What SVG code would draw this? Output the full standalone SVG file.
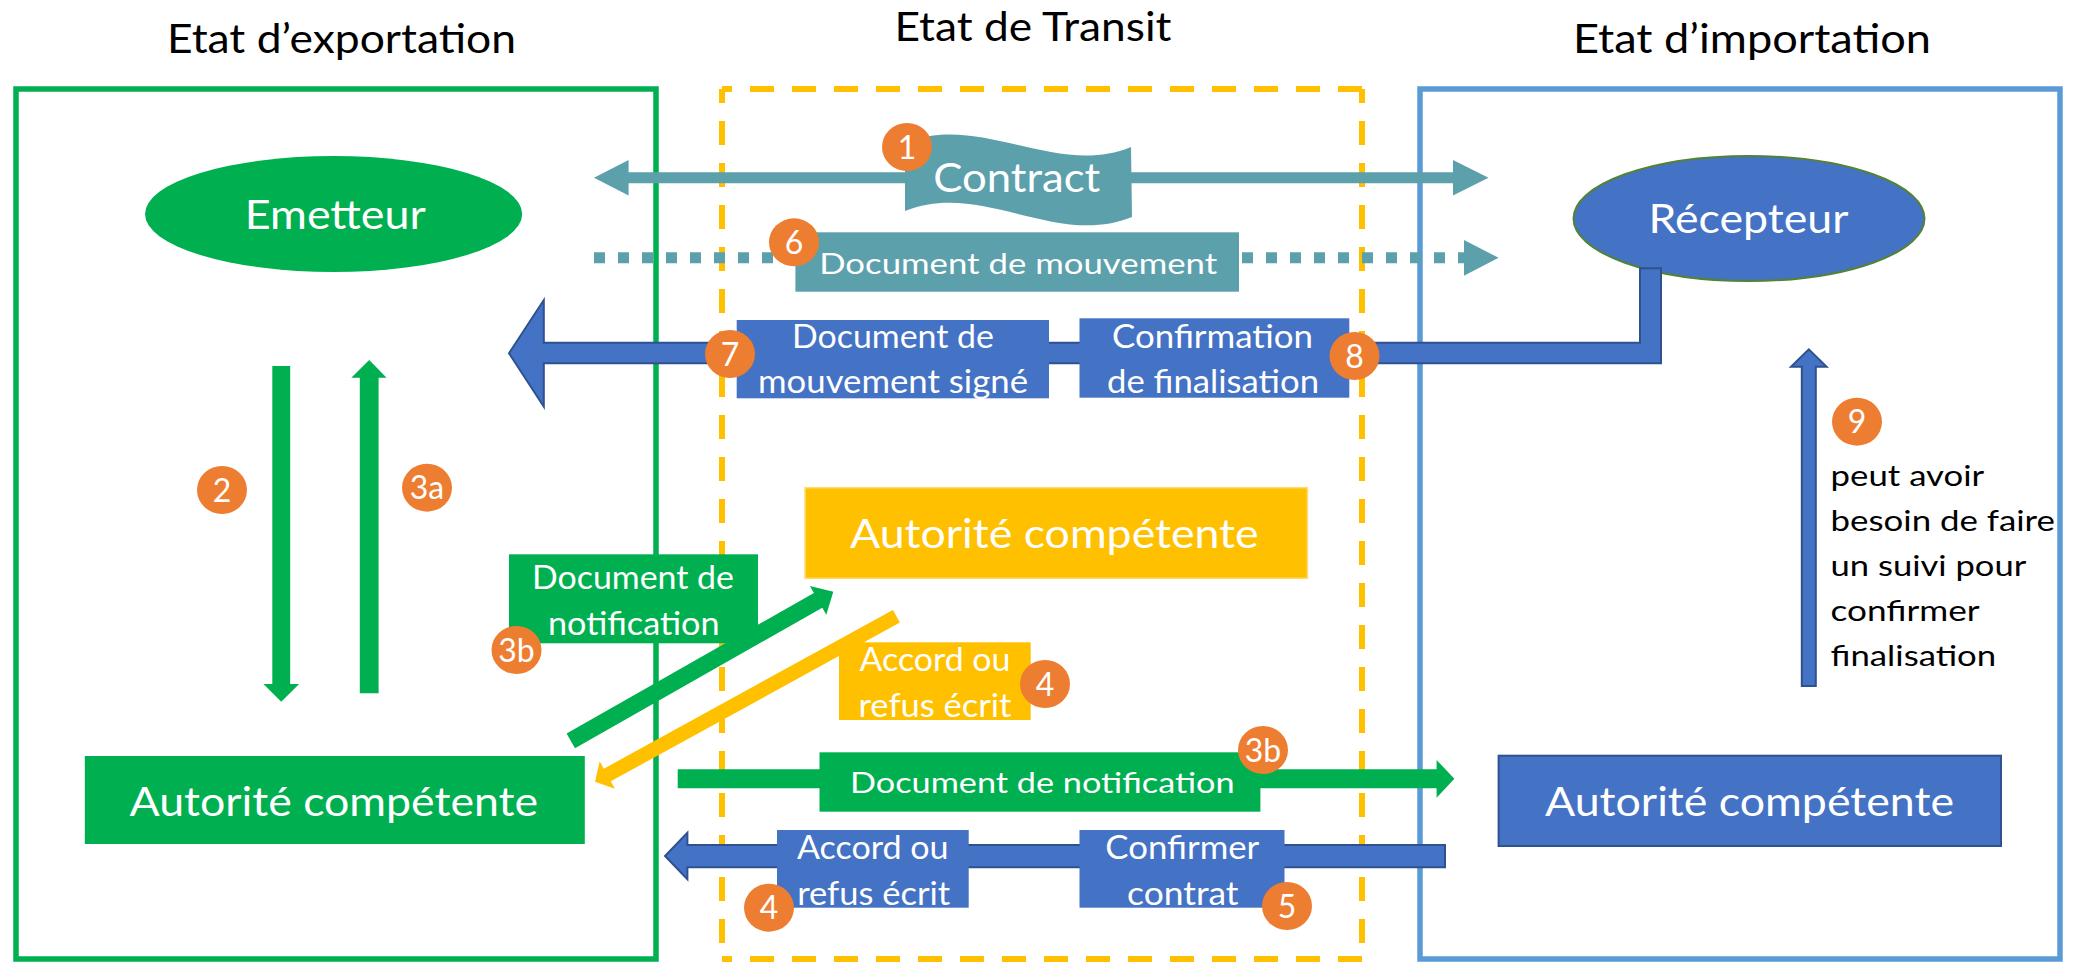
<svg xmlns="http://www.w3.org/2000/svg" width="2074" height="962" viewBox="0 0 2074 962">
  <style>
    text { font-family: Lato, "Liberation Sans", sans-serif; text-anchor: middle; }
    .head { fill: #000; font-size: 41px; }
    .big { fill: #fff; font-size: 41px; }
    .mid { fill: #fff; font-size: 32px; }
    .small { fill: #fff; font-size: 29.5px; }
    .note { fill: #000; font-size: 29px; text-anchor: start; }
    .num { fill: #fff; font-size: 32px; }
    .badge ellipse { fill: #ED7D31; }
    .green { fill: #00B050; }
    .yellow { fill: #FFC000; }
    .blue { fill: #4472C4; }
    .blueline { fill: #4472C4; stroke: #2F528F; stroke-width: 2; stroke-linejoin: miter; }
    .teal { fill: #5CA0AC; }
    .frame { fill: none; stroke-width: 5.5; }
    .dash { stroke: #FFC000; stroke-width: 6; stroke-dasharray: 24 18; stroke-dashoffset: 10; fill: none; }
  </style>

  <rect width="2074" height="962" fill="#fff"/>

  <!-- state areas -->
  <g id="frames">
    <rect class="frame" x="16" y="89" width="640" height="870" stroke="#00B050"/>
    <rect class="frame" x="1420" y="89" width="640" height="870" stroke="#5B9BD5"/>
    <line class="dash" x1="722" y1="89" x2="1362" y2="89" style="stroke-dashoffset:14"/>
    <line class="dash" x1="722" y1="89" x2="722" y2="959"/>
    <line class="dash" x1="1362" y1="89" x2="1362" y2="959"/>
    <line class="dash" x1="722" y1="959" x2="1362" y2="959" style="stroke-dashoffset:14"/>
  </g>

  <g id="titles">
    <text class="head" x="341.5" y="53" textLength="349" lengthAdjust="spacingAndGlyphs">Etat d’exportation</text>
    <text class="head" x="1033" y="41" textLength="277" lengthAdjust="spacingAndGlyphs">Etat de Transit</text>
    <text class="head" x="1752" y="53" textLength="358" lengthAdjust="spacingAndGlyphs">Etat d’importation</text>
  </g>

  <!-- parties and authorities -->
  <g id="emetteur">
    <ellipse class="green" cx="333.6" cy="214" rx="188.6" ry="58"/>
    <text class="big" x="335.3" y="229" textLength="181" lengthAdjust="spacingAndGlyphs">Emetteur</text>
  </g>
  <g id="recepteur">
    <ellipse cx="1749" cy="218.5" rx="175.5" ry="62.5" fill="#4472C4" stroke="#548235" stroke-width="2"/>
    <text class="big" x="1748.5" y="233.3" textLength="200" lengthAdjust="spacingAndGlyphs">Récepteur</text>
  </g>
  <g id="autorite-export">
    <rect class="green" x="84.8" y="756" width="500" height="88"/>
    <text class="big" x="333.8" y="816" font-size="42" textLength="408.5" lengthAdjust="spacingAndGlyphs">Autorité compétente</text>
  </g>
  <g id="autorite-transit">
    <rect class="yellow" x="805" y="487.7" width="502.4" height="90.6" stroke="#FFDB70" stroke-width="1.5"/>
    <text class="big" x="1054.3" y="548.3" font-size="42" textLength="408.6" lengthAdjust="spacingAndGlyphs">Autorité compétente</text>
  </g>
  <g id="autorite-import">
    <rect class="blueline" x="1498.6" y="755.7" width="502.4" height="90.3"/>
    <text class="big" x="1749.5" y="816" font-size="42" textLength="409" lengthAdjust="spacingAndGlyphs">Autorité compétente</text>
  </g>

  <!-- flows -->
  <g id="connectors">
    <!-- 1: contract, both ways -->
    <polygon class="teal" points="594,177.8 628.6,160 628.6,172.3 1453,172.3 1453,160 1488.5,177.8 1453,195.6 1453,183.3 628.6,183.3 628.6,195.6"/>
    <!-- 6: movement document, dotted -->
    <line x1="594" y1="257.8" x2="1464" y2="257.8" stroke="#5CA0AC" stroke-width="11" stroke-dasharray="11 13"/>
    <polygon class="teal" points="1464,240 1498.6,257.8 1464,275.7"/>
    <!-- 7/8: from receiver back to sender -->
    <path class="blueline" d="M1661,268.3 L1661,363.3 L543.8,363.3 L543.8,406.7 L509,353.3 L543.8,300 L543.8,342.7 L1640,342.7 L1640,268.3 Z"/>
    <!-- 2 / 3a: sender and its authority -->
    <polygon class="green" points="272.3,366 290.2,366 290.2,684 299.1,684 281.25,701.7 263.4,684 272.3,684"/>
    <polygon class="green" points="359.8,693.3 378.6,693.3 378.6,377.7 386.6,377.7 369.2,360 351.3,377.7 359.8,377.7"/>
    <!-- 3b: notification to transit authority -->
    <polygon class="green" points="566.6,733.4 813.9,592.9 809.9,585.9 833.3,591.7 826.3,614.7 822.3,607.7 575,748.2"/>
    <!-- 4: transit answer -->
    <polygon class="yellow" points="892.9,610 603.8,768.7 599.7,761.2 595,781.7 614.9,788.8 610.8,781.3 899.9,622.6"/>
    <!-- 3b: notification to import authority -->
    <polygon class="green" points="677.7,769.3 1436.6,769.3 1436.6,760 1454.4,778.8 1436.6,797.7 1436.6,788.3 677.7,788.3"/>
    <!-- 4/5: import authority answer -->
    <polygon class="blueline" points="1445,845 687.4,845 687.4,832.7 665,856 687.4,879.3 687.4,867.3 1445,867.3"/>
    <!-- 9: follow-up -->
    <polygon class="blueline" points="1801.8,686 1801.8,366.7 1791,366.7 1808.8,349.3 1826.6,366.7 1815.8,366.7 1815.8,686"/>
  </g>

  <!-- flow labels -->
  <g id="label-contract">
    <path class="teal" d="M905,143 C980,112 1056,178 1131,147 L1132,217 C1056,248 981,180 905,211 Z"/>
    <text class="big" x="1016.7" y="191.7" font-size="40" textLength="167" lengthAdjust="spacingAndGlyphs">Contract</text>
  </g>
  <g id="label-mouvement">
    <rect class="teal" x="795.4" y="232.3" width="443.6" height="59.4"/>
    <text class="small" x="1018.2" y="274" font-size="29" textLength="398" lengthAdjust="spacingAndGlyphs">Document de mouvement</text>
  </g>
  <g id="label-signe">
    <rect class="blue" x="736.7" y="320" width="312.3" height="78.3"/>
    <text class="mid" x="893" y="348.3" textLength="202" lengthAdjust="spacingAndGlyphs">Document de</text>
    <text class="mid" x="893" y="393.3" textLength="270" lengthAdjust="spacingAndGlyphs">mouvement signé</text>
  </g>
  <g id="label-finalisation">
    <rect class="blue" x="1079.5" y="318.3" width="269.8" height="79.4"/>
    <text class="mid" x="1212.5" y="347.7" textLength="201" lengthAdjust="spacingAndGlyphs">Confirmation</text>
    <text class="mid" x="1213" y="393.3" textLength="212" lengthAdjust="spacingAndGlyphs">de finalisation</text>
  </g>
  <g id="label-notification-transit">
    <rect class="green" x="509" y="554.3" width="249" height="89"/>
    <text class="mid" x="633" y="589.3" textLength="202" lengthAdjust="spacingAndGlyphs">Document de</text>
    <text class="mid" x="633.8" y="635" textLength="171.6" lengthAdjust="spacingAndGlyphs">notification</text>
  </g>
  <g id="label-accord-transit">
    <rect class="yellow" x="839" y="642.3" width="191.7" height="77.7"/>
    <text class="mid" x="935" y="671" font-size="31.6" textLength="151" lengthAdjust="spacingAndGlyphs">Accord ou</text>
    <text class="mid" x="935" y="716.7" font-size="31.6" textLength="153" lengthAdjust="spacingAndGlyphs">refus écrit</text>
  </g>
  <g id="label-notification-import">
    <rect class="green" x="819.5" y="752.3" width="440.9" height="59.4"/>
    <text class="small" x="1042.3" y="793.3" font-size="30" textLength="384.5" lengthAdjust="spacingAndGlyphs">Document de notification</text>
  </g>
  <g id="label-accord-import">
    <rect class="blue" x="777" y="830" width="191.7" height="77.7"/>
    <text class="mid" x="872.8" y="859.3" font-size="31.6" textLength="151.6" lengthAdjust="spacingAndGlyphs">Accord ou</text>
    <text class="mid" x="873.7" y="905" font-size="31.6" textLength="153" lengthAdjust="spacingAndGlyphs">refus écrit</text>
  </g>
  <g id="label-confirmer">
    <rect class="blue" x="1079.5" y="830" width="205" height="77.7"/>
    <text class="mid" x="1182.3" y="859.3" font-size="31.6" textLength="154" lengthAdjust="spacingAndGlyphs">Confirmer</text>
    <text class="mid" x="1182.8" y="905" font-size="31.6" textLength="111.5" lengthAdjust="spacingAndGlyphs">contrat</text>
  </g>
  <g id="label-suivi">
    <text class="note" x="1830.6" y="486" textLength="153.6" lengthAdjust="spacingAndGlyphs">peut avoir</text>
    <text class="note" x="1830.6" y="531" textLength="224.4" lengthAdjust="spacingAndGlyphs">besoin de faire</text>
    <text class="note" x="1830.6" y="576" textLength="195.7" lengthAdjust="spacingAndGlyphs">un suivi pour</text>
    <text class="note" x="1830.6" y="621" textLength="149" lengthAdjust="spacingAndGlyphs">confirmer</text>
    <text class="note" x="1830.6" y="666" textLength="165.6" lengthAdjust="spacingAndGlyphs">finalisation</text>
  </g>

  <!-- step numbers -->
  <g id="steps" class="badge">
    <ellipse cx="907" cy="147" rx="25" ry="24"/><text class="num" x="907" y="158.5">1</text>
    <ellipse cx="794" cy="242.3" rx="25" ry="24"/><text class="num" x="794" y="253.8">6</text>
    <ellipse cx="730" cy="354" rx="25" ry="24"/><text class="num" x="730" y="365.5">7</text>
    <ellipse cx="1354.5" cy="356" rx="25" ry="24"/><text class="num" x="1354.5" y="367.5">8</text>
    <ellipse cx="222" cy="490" rx="25" ry="24"/><text class="num" x="222" y="501.5">2</text>
    <ellipse cx="427" cy="487.7" rx="25" ry="24"/><text class="num" x="427" y="499.2">3a</text>
    <ellipse cx="516.5" cy="650" rx="25" ry="24"/><text class="num" x="516.5" y="661.5">3b</text>
    <ellipse cx="1045" cy="684" rx="25" ry="24"/><text class="num" x="1045" y="695.5">4</text>
    <ellipse cx="1263" cy="750" rx="25" ry="24"/><text class="num" x="1263" y="761.5">3b</text>
    <ellipse cx="769" cy="907.7" rx="25" ry="24"/><text class="num" x="769" y="919.2">4</text>
    <ellipse cx="1287" cy="906" rx="25" ry="24"/><text class="num" x="1287" y="917.5">5</text>
    <ellipse cx="1857" cy="421.7" rx="25" ry="24"/><text class="num" x="1857" y="433.2">9</text>
  </g>
</svg>
